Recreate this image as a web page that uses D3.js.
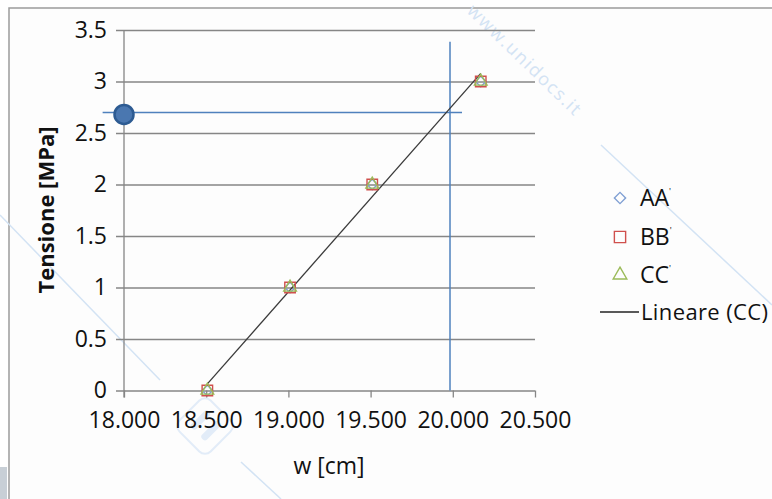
<!DOCTYPE html>
<html>
<head>
<meta charset="utf-8">
<script src="https://cdn.jsdelivr.net/npm/d3@7"></script>
<style>
  body { margin: 0; background: #fff; }
  text { font-family: "Open Sans", sans-serif; }
</style>
</head>
<body>
<div id="chart"></div>
<script>
// data
var seriesNames  = ["AA'", "BB'", "CC'"];
var tension      = [0, 1, 2, 3];
var wAA          = [18.507, 19.010, 19.510, 20.170];
var wBB          = [18.507, 19.010, 19.510, 20.170];
var wCC          = [18.507, 19.010, 19.510, 20.170];
var xTicks       = [18, 18.5, 19, 19.5, 20, 20.5];
var xTickLabels  = ["18.000", "18.500", "19.000", "19.500", "20.000", "20.500"];
var yTicks       = [0, 0.5, 1, 1.5, 2, 2.5, 3, 3.5];
var yTickLabels  = ["0", "0.5", "1", "1.5", "2", "2.5", "3", "3.5"];
// reading lines drawn by hand on the chart
var readTension  = [2.70];
var readW        = [19.983];
var readPoint    = [18.0, 2.68];

var width  = 772,
    height = 499;

var svg = d3.select("#chart").append("svg")
    .attr("width", width)
    .attr("height", height);

// outer frame
svg.append("rect").attr("x", 0).attr("y", 0).attr("width", width).attr("height", height).style("fill", "#fff");
svg.append("rect").attr("x", 9).attr("y", 8).attr("width", width).attr("height", height)
    .style("fill", "#fdfdfd").style("stroke", "#9c9c9c").style("stroke-width", "1.5px");
svg.append("rect").attr("x", 0).attr("y", 467).attr("width", 7).attr("height", 32).style("fill", "#c8cfd6");

// watermark
var wmColor = "#d3e3f4";
var wm = svg.append("g");
[[0, 215, 160, 380], [601, 145, 772, 305], [241, 462, 281, 499]].forEach(function (l) {
    wm.append("line").attr("x1", l[0]).attr("y1", l[1]).attr("x2", l[2]).attr("y2", l[3])
      .style("stroke", wmColor).style("stroke-width", "1.5px");
});
wm.append("text")
    .attr("transform", "translate(466,12) rotate(44)")
    .attr("textLength", 150)
    .style("font-size", "18px")
    .style("fill", wmColor)
    .text("www.unidocs.it");
var logo = wm.append("g").attr("transform", "translate(205,426) rotate(45)");
logo.append("rect").attr("x", -22).attr("y", -22).attr("width", 44).attr("height", 44).attr("rx", 8)
    .style("fill", "none").style("stroke", "#e2ecf8").style("stroke-width", "2px");
logo.append("rect").attr("x", -11).attr("y", -13).attr("width", 7).attr("height", 24).attr("rx", 3).style("fill", "#e2ecf8");
logo.append("rect").attr("x", 4).attr("y", -13).attr("width", 7).attr("height", 24).attr("rx", 3).style("fill", "#e2ecf8");

// scales
var x = d3.scaleLinear().domain([18, 20.5]).range([124, 535]);
var y = d3.scaleLinear().domain([0, 3.5]).range([390.5, 30]);

var gridColor = "#868686";

// y axis with gridlines
var yAxis = d3.axisLeft(y)
    .tickValues(yTicks)
    .tickSize(-(535 - 116))
    .tickPadding(12)
    .tickFormat(function (d, i) { return yTickLabels[i]; });
var gy = svg.append("g").attr("transform", "translate(116,0)").call(yAxis);
gy.select(".domain").remove();
gy.selectAll(".tick line").style("stroke", gridColor).style("stroke-width", "1.3px");
gy.selectAll(".tick text").attr("x", -9)
    .style("font-size", "23px").style("fill", "#111").style("font-family", "Open Sans");

// x axis
var xAxis = d3.axisBottom(x)
    .tickValues(xTicks)
    .tickSize(7)
    .tickPadding(14)
    .tickFormat(function (d, i) { return xTickLabels[i]; });
var gx = svg.append("g").attr("transform", "translate(0,390.5)").call(xAxis);
gx.select(".domain").remove();
gx.selectAll(".tick line").style("stroke", gridColor).style("stroke-width", "1.3px");
gx.selectAll(".tick text")
    .style("font-size", "23px").style("fill", "#111").style("font-family", "Open Sans");

// vertical axis line
svg.append("line").attr("x1", x(18)).attr("x2", x(18)).attr("y1", y(3.5)).attr("y2", y(0) + 7)
    .style("stroke", gridColor).style("stroke-width", "1.3px");

// axis titles
svg.append("text")
    .attr("transform", "translate(54,210) rotate(-90)")
    .attr("text-anchor", "middle")
    .style("font-size", "22px").style("font-weight", "bold").style("fill", "#111")
    .text("Tensione [MPa]");
svg.append("text")
    .attr("x", 329).attr("y", 474)
    .attr("text-anchor", "middle")
    .style("font-size", "23px").style("fill", "#111")
    .text("w [cm]");

// reading lines
var blue = "#4f81bd";
svg.append("line")
    .attr("x1", x(17.87)).attr("x2", x(20.056))
    .attr("y1", y(readTension[0])).attr("y2", y(readTension[0]))
    .style("stroke", blue).style("stroke-width", "1.5px");
svg.append("line")
    .attr("x1", x(readW[0])).attr("x2", x(readW[0]))
    .attr("y1", y(3.386)).attr("y2", y(0))
    .style("stroke", blue).style("stroke-width", "1.5px");

// linear trend of CC'
var mx = d3.mean(wCC), my = d3.mean(tension);
var sxy = d3.sum(wCC, function (d, i) { return (d - mx) * (tension[i] - my); });
var sxx = d3.sum(wCC, function (d) { return (d - mx) * (d - mx); });
var slope = sxy / sxx, icpt = my - slope * mx;
var xmin = d3.min(wCC), xmax = d3.max(wCC);
svg.append("line")
    .attr("x1", x(xmin)).attr("y1", y(icpt + slope * xmin))
    .attr("x2", x(xmax)).attr("y2", y(icpt + slope * xmax))
    .style("stroke", "#3a3a3a").style("stroke-width", "1.3px");

// markers (diamond = square turned 45 degrees)
var sym = [d3.symbolSquare, d3.symbolSquare, d3.symbolTriangle];
var symSize = [55, 110, 70];
var symRot = [" rotate(45)", "", ""];
var colors = ["#7f9fd3", "#d0504d", "#9bbb59"];
var series = [wAA, wBB, wCC];

series.forEach(function (s, k) {
    svg.append("g").selectAll("path")
        .data(s)
        .enter().append("path")
        .attr("transform", function (d, i) { return "translate(" + x(d) + "," + y(tension[i]) + ")" + symRot[k]; })
        .attr("d", d3.symbol().type(sym[k]).size(symSize[k]))
        .style("fill", "none")
        .style("stroke", colors[k])
        .style("stroke-width", "1.4px");
});

// read point on y axis
svg.append("circle")
    .attr("cx", x(readPoint[0])).attr("cy", y(readPoint[1])).attr("r", 9.5)
    .style("fill", "#4a77b0").style("stroke", "#2d5b92").style("stroke-width", "2.5px");

// legend
var legendY = [198, 237, 275];
var legend = svg.append("g");
seriesNames.forEach(function (name, k) {
    legend.append("path")
        .attr("transform", "translate(620," + legendY[k] + ")" + symRot[k])
        .attr("d", d3.symbol().type(sym[k]).size(symSize[k] * 1.15))
        .style("fill", "none").style("stroke", colors[k]).style("stroke-width", "1.4px");
    var t = legend.append("text")
        .attr("x", 640).attr("y", legendY[k] + 8)
        .style("font-size", "23px").style("fill", "#111");
    t.append("tspan").text(name.slice(0, -1));
    t.append("tspan").attr("dy", -11).style("font-size", "9px").text(name.slice(-1));
});
legend.append("line").attr("x1", 600).attr("x2", 639).attr("y1", 312).attr("y2", 312)
    .style("stroke", "#222").style("stroke-width", "1.3px");
legend.append("text")
    .attr("x", 641).attr("y", 320)
    .attr("textLength", 127)
    .style("font-size", "22px").style("fill", "#111")
    .text("Lineare (CC)");
</script>
</body>
</html>
